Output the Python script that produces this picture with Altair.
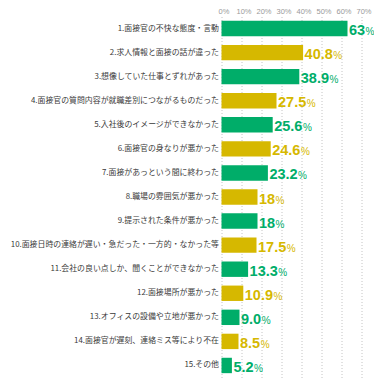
import altair as alt
import pandas as pd

categories = [
    "1.面接官の不快な態度・言動",
    "2.求人情報と面接の話が違った",
    "3.想像していた仕事とずれがあった",
    "4.面接官の質問内容が就職差別につながるものだった",
    "5.入社後のイメージができなかった",
    "6.面接官の身なりが悪かった",
    "7.面接があっという間に終わった",
    "8.職場の雰囲気が悪かった",
    "9.提示された条件が悪かった",
    "10.面接日時の連絡が遅い・急だった・一方的・なかった等",
    "11.会社の良い点しか、聞くことができなかった",
    "12.面接場所が悪かった",
    "13.オフィスの設備や立地が悪かった",
    "14.面接官が遅刻、連絡ミス等により不在",
    "15.その他",
]
values = [63, 40.8, 38.9, 27.5, 25.6, 24.6, 23.2, 18, 18, 17.5, 13.3, 10.9, 9.0, 8.5, 5.2]
value_text = ["63", "40.8", "38.9", "27.5", "25.6", "24.6", "23.2", "18", "18",
              "17.5", "13.3", "10.9", "9.0", "8.5", "5.2"]
groups = ["g", "y", "g", "y", "g", "y", "g", "y", "g", "y", "g", "y", "g", "y", "g"]
x_ticks = [0, 10, 20, 30, 40, 50, 60, 70]

df = pd.DataFrame({"cat": categories, "v": values, "t": value_text, "g": groups})

W = 140
XMAX = 70
NUM_FS = 14.5
LEFT = 213.5

color = alt.Color("g:N", scale=alt.Scale(domain=["g", "y"], range=["#00ad69", "#d6b800"]), legend=None)
yscale = alt.Scale(paddingInner=0.36, paddingOuter=0.18)
xscale = alt.Scale(domain=[0, XMAX], nice=False)

yaxis = alt.Axis(labelFont="Noto Sans CJK JP", labelFontSize=7.9, labelColor="#3a3a3a",
                 ticks=False, domain=False, labelPadding=3, labelLimit=400, grid=False)
xaxis = alt.Axis(orient="top", values=x_ticks, labelExpr="datum.value + '%'",
                 labelFont="Liberation Sans", labelFontSize=7.5, labelColor="#9a9a9a",
                 ticks=False, domain=False, labelPadding=1, labelOverlap=False,
                 labelFlush=False, labelOffset=2,
                 grid=True, gridDash=[1, 2], gridColor="#c4c4c4", gridWidth=1)

Y = alt.Y("cat:N", sort=categories, scale=yscale, title=None, axis=yaxis)

bars = alt.Chart(df).mark_bar().encode(
    y=Y,
    x=alt.X("v:Q", scale=xscale, title=None, axis=xaxis),
    color=color,
)

nums = alt.Chart(df).mark_text(align="left", baseline="alphabetic", dx=1.5, dy=6.5,
                               font="Liberation Sans", fontWeight="bold", fontSize=NUM_FS).encode(
    y=Y,
    x=alt.X("v:Q", scale=xscale, title=None, axis=xaxis),
    text="t:N",
    color=color,
)

pct = alt.Chart(df).transform_calculate(
    nd="length(replace(datum.t, '.', ''))",
).transform_calculate(
    off=f"2 + datum.nd * {0.556 * NUM_FS} + (length(datum.t) - datum.nd) * {0.278 * NUM_FS}",
).transform_calculate(
    xp=f"datum.v + datum.off * {XMAX / W}",
    p="'%'",
).mark_text(align="left", baseline="alphabetic", dy=6.5, font="Liberation Sans", fontSize=10).encode(
    y=Y,
    x=alt.X("xp:Q", scale=xscale, title=None, axis=xaxis),
    text="p:N",
    color=color,
)

chart = alt.layer(bars, nums, pct).properties(
    width=W, height=361,
    autosize=alt.AutoSizeParams(type="none"),
    padding={"left": LEFT, "top": 8.5, "right": 366 - LEFT - W, "bottom": 4},
).configure_view(stroke=None)

chart.save("out.html", embed_options={"renderer": "svg", "actions": False})
